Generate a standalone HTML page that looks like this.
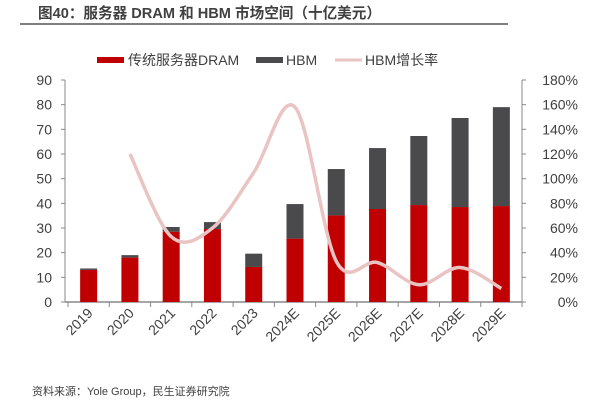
<!DOCTYPE html>
<html><head><meta charset="utf-8"><style>
body{margin:0;background:#fff;width:610px;height:410px;overflow:hidden;font-family:"Liberation Sans","Noto Sans CJK SC",sans-serif;}
</style></head><body>
<svg id="c" width="610" height="410" xmlns="http://www.w3.org/2000/svg">
<text x="38" y="18" font-size="14.6" font-weight="bold" fill="#404040" font-family="Liberation Sans, Noto Sans CJK SC, sans-serif">图40：服务器 DRAM 和 HBM 市场空间（十亿美元）</text>
<line x1="20" y1="24" x2="508" y2="24" stroke="#555" stroke-width="1.5"/>
<g font-size="14" fill="#404040">
<rect x="97" y="57" width="27" height="6" fill="#c00000"/>
<text x="128" y="65">传统服务器DRAM</text>
<rect x="256" y="57" width="27" height="6" fill="#4a4a4c"/>
<text x="286" y="65">HBM</text>
<line x1="335" y1="60" x2="362" y2="60" stroke="#eac3c3" stroke-width="3"/>
<text x="365" y="65">HBM增长率</text>
</g>
<g id="plot"></g>
<text x="32" y="395" font-size="11" fill="#404040">资料来源：Yole Group，民生证券研究院</text>
</svg>
<script>
const categories=["2019","2020","2021","2022","2023","2024E","2025E","2026E","2027E","2028E","2029E"];
const dram=[13,18,28.5,29.6,14.2,25.7,35.1,37.7,39.3,38.5,38.9];
const hbm=[0.6,1,1.9,2.8,5.4,14,18.8,24.7,28,36.1,40.1];
const growth=[null,120,53,60,105,158,33,32,14,28,11];
const leftTicks=[0,10,20,30,40,50,60,70,80,90];
const rightTicks=[0,20,40,60,80,100,120,140,160,180];

const NS="http://www.w3.org/2000/svg";
const g=document.getElementById('plot');
const X0=68,X1=522,Y0=302,Y1=80;
const bw=(X1-X0)/categories.length;
const yL=v=>Y0-(v/90)*(Y0-Y1);
const yR=v=>Y0-(v/180)*(Y0-Y1);
const xC=i=>X0+bw*(i+0.5);
function el(t,a){const e=document.createElementNS(NS,t);for(const k in a)e.setAttribute(k,a[k]);g.appendChild(e);return e;}
let ax=el('line',{x1:X0-3,y1:Y0,x2:X1,y2:Y0,stroke:'#888','stroke-width':1.5});


let la=el('line',{x1:X0-3,y1:Y1,x2:X0-3,y2:Y0,stroke:'#888','stroke-width':1});


let ra=el('line',{x1:X1,y1:Y1,x2:X1,y2:Y0,stroke:'#888','stroke-width':1});


leftTicks.forEach(v=>{
 el('line',{x1:X0-7,y1:yL(v),x2:X0-3,y2:yL(v),stroke:'#888'});
 const t=el('text',{x:52,y:yL(v)+5,'text-anchor':'end','font-size':14,fill:'#404040'});t.textContent=v;
 
 
});
rightTicks.forEach(v=>{
 el('line',{x1:X1,y1:yR(v),x2:X1+4,y2:yR(v),stroke:'#888'});
 const t=el('text',{x:578,y:yR(v)+5,'text-anchor':'end','font-size':14,fill:'#404040'});t.textContent=v+'%';
 
 
});
for(let i=0;i<=categories.length;i++)el('line',{x1:X0+bw*i,y1:Y0,x2:X0+bw*i,y2:Y0+5,stroke:'#888'});
categories.forEach((c,i)=>{
 const x=xC(i),w=17;
 const r1=el('rect',{x:x-w/2,y:yL(dram[i]),width:w,height:Y0-yL(dram[i]),fill:'#c00000'});
 
 
 const r2=el('rect',{x:x-w/2,y:yL(dram[i]+hbm[i]),width:w,height:yL(dram[i])-yL(dram[i]+hbm[i]),fill:'#4a4a4c'});
 
 
 const t=el('text',{x:0,y:0,'text-anchor':'end','font-size':14,fill:'#404040',transform:`translate(${x+5},${Y0+12}) rotate(-45)`});
 t.textContent=c;
 
 
});
const pts=[];growth.forEach((v,i)=>{if(v!==null)pts.push([xC(i),yR(v)]);});
let d='M'+pts[0][0]+','+pts[0][1];
for(let i=0;i<pts.length-1;i++){
 const p0=pts[Math.max(0,i-1)],p1=pts[i],p2=pts[i+1],p3=pts[Math.min(pts.length-1,i+2)];
 const c1=[p1[0]+(p2[0]-p0[0])/6,p1[1]+(p2[1]-p0[1])/6];
 const c2=[p2[0]-(p3[0]-p1[0])/6,p2[1]-(p3[1]-p1[1])/6];
 d+=` C${c1[0]},${c1[1]} ${c2[0]},${c2[1]} ${p2[0]},${p2[1]}`;
}
const ln=el('path',{d:d,fill:'none',stroke:'#eac3c3','stroke-width':3.5});


</script>
</body></html>
